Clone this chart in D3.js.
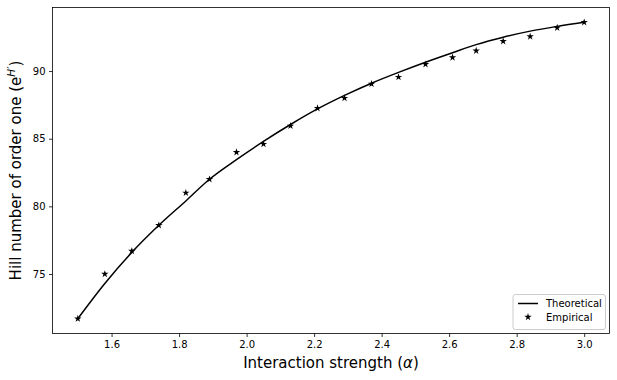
<!DOCTYPE html>
<html>
<head>
    <meta charset="utf-8">
    <title>Hill number vs interaction strength</title>
    <style>
        body { margin: 0; background: #fff; }
        text { font-family: "DejaVu Sans", sans-serif; fill: #000; }
    </style>
</head>
<body>
<script src="https://d3js.org/d3.v7.min.js"></script>
<script>
    // x values (interaction strength)
    const alphas = [1.50, 1.58, 1.66, 1.74, 1.82, 1.89, 1.97, 2.05, 2.13, 2.21,
                    2.29, 2.37, 2.45, 2.53, 2.61, 2.68, 2.76, 2.84, 2.92, 3.00];
    // theoretical curve
    const theoretical = [71.7, 74.3, 76.6, 78.6, 80.4, 82.0, 83.45, 84.8, 86.05, 87.2,
                         88.2, 89.1, 89.9, 90.65, 91.35, 91.95, 92.5, 92.95, 93.3, 93.6];
    // empirical points
    const empirical = [71.7, 75.0, 76.7, 78.6, 81.0, 82.0, 84.0, 84.6, 85.95, 87.25,
                       88.0, 89.05, 89.55, 90.5, 91.0, 91.5, 92.2, 92.55, 93.2, 93.6];
    const xTicks = [1.6, 1.8, 2.0, 2.2, 2.4, 2.6, 2.8, 3.0];
    const yTicks = [75, 80, 85, 90];

    const W = 617, H = 380;
    const M = {left: 52.5, right: 609.5, top: 7.5, bottom: 333.5};

    const svg = d3.select('body').append('svg')
        .attr('width', W)
        .attr('height', H);

    // matplotlib-like 5% margins
    const xPad = (3.0 - 1.5) * 0.05;
    const yMin = d3.min(empirical.concat(theoretical)), yMax = d3.max(empirical.concat(theoretical));
    const yPad = (yMax - yMin) * 0.05;

    const x = d3.scaleLinear().domain([1.5 - xPad, 3.0 + xPad]).range([M.left, M.right]);
    const y = d3.scaleLinear().domain([yMin - yPad, yMax + yPad]).range([M.bottom, M.top]);

    // axes
    const xAxis = svg.append('g')
        .attr('transform', `translate(0,${M.bottom})`)
        .call(d3.axisBottom(x).tickValues(xTicks).tickFormat(d3.format('.1f')).tickSize(3.5).tickPadding(3.5));
    const yAxis = svg.append('g')
        .attr('transform', `translate(${M.left},0)`)
        .call(d3.axisLeft(y).tickValues(yTicks).tickFormat(d3.format('d')).tickSize(3.5).tickPadding(3.5));
    [xAxis, yAxis].forEach(g => {
        g.select('.domain').remove();
        g.selectAll('.tick line').attr('stroke', '#000').attr('stroke-width', 0.8);
        g.selectAll('.tick text').style('font-size', '10px').style('font-family', '"DejaVu Sans", sans-serif');
    });

    // frame
    svg.append('rect')
        .attr('x', M.left).attr('y', M.top)
        .attr('width', M.right - M.left).attr('height', M.bottom - M.top)
        .attr('fill', 'none').attr('stroke', '#000').attr('stroke-width', 0.8);

    // theoretical line
    const line = d3.line()
        .x((d, i) => x(alphas[i]))
        .y(d => y(d))
        .curve(d3.curveMonotoneX);
    svg.append('path')
        .datum(theoretical)
        .attr('d', line)
        .attr('fill', 'none')
        .attr('stroke', '#000')
        .attr('stroke-width', 1.5);

    // empirical stars
    const star = d3.symbol().type(d3.symbolStar).size(17);
    svg.selectAll('.emp')
        .data(empirical)
        .enter()
        .append('path')
        .attr('class', 'emp')
        .attr('d', star)
        .attr('transform', (d, i) => `translate(${x(alphas[i])},${y(d)})`)
        .attr('fill', '#000');

    // axis labels
    svg.append('text')
        .attr('x', (M.left + M.right) / 2)
        .attr('y', 368)
        .attr('text-anchor', 'middle')
        .style('font-size', '15px')
        .html('Interaction strength (<tspan font-style="italic">α</tspan>)');

    const yl = svg.append('text')
        .attr('transform', `translate(21,${(M.top + M.bottom) / 2}) rotate(-90)`)
        .attr('text-anchor', 'middle')
        .style('font-size', '15px');
    yl.append('tspan').text('Hill number of order one (');
    yl.append('tspan').text('e');
    yl.append('tspan').attr('dy', -6).style('font-size', '10.5px').style('font-style', 'italic').text('H′');
    yl.append('tspan').attr('dy', 6).text(')');

    // legend
    const lg = svg.append('g').attr('transform', 'translate(513,294.5)');
    lg.append('rect')
        .attr('width', 92.5).attr('height', 35)
        .attr('rx', 2.5)
        .attr('fill', '#fff').attr('fill-opacity', 0.8)
        .attr('stroke', '#ccc').attr('stroke-width', 1);
    lg.append('line')
        .attr('x1', 5).attr('x2', 25).attr('y1', 9).attr('y2', 9)
        .attr('stroke', '#000').attr('stroke-width', 1.5);
    lg.append('path')
        .attr('d', star)
        .attr('transform', 'translate(15,22.5)')
        .attr('fill', '#000');
    lg.append('text').attr('x', 33).attr('y', 12.5).style('font-size', '10px').text('Theoretical');
    lg.append('text').attr('x', 33).attr('y', 26).style('font-size', '10px').text('Empirical');
</script>
</body>
</html>
